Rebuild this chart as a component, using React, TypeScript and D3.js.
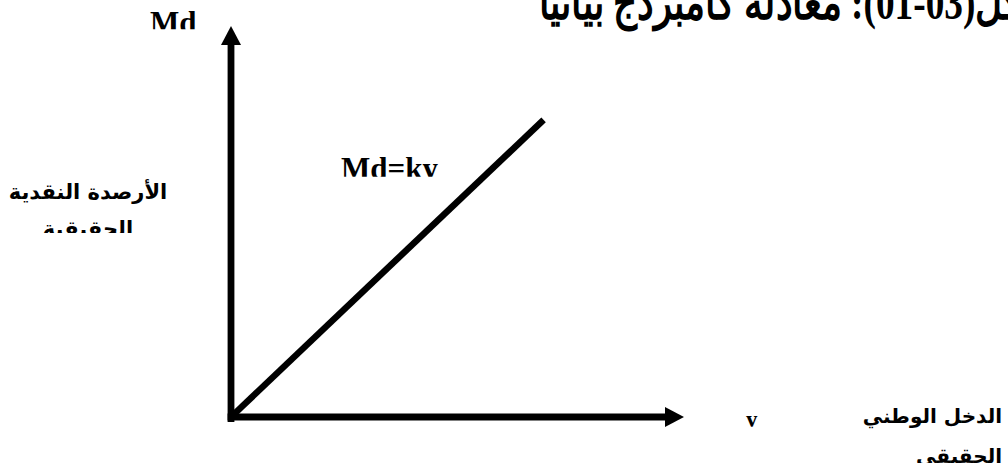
import React from "react";
import * as d3 from "d3";

// ---- data ----
const xDomain = [0, 100];
const yDomain = [0, 100];
const demandLine = [
  { v: 0, md: 0 },
  { v: 69, md: 76 },
];
const titleText = "شكل(03-01): معادلة كامبردج بيانيا";
const yAxisSymbol = "Md";
const xAxisSymbol = "y";
const curveLabel = "Md=ky";
const yAxisTitle = ["الأرصدة النقدية", "الحقيقية"];
const xAxisTitle = ["الدخل الوطني", "الحقيقي"];

const W = 1008;
const H = 463;

export default function App() {
  const x = d3.scaleLinear().domain(xDomain).range([231, 684]);
  const y = d3.scaleLinear().domain(yDomain).range([417, 26]);
  const lineGen = d3
    .line<{ v: number; md: number }>()
    .x((d) => x(d.v))
    .y((d) => y(d.md));

  const x0 = x(xDomain[0]);
  const x1 = x(xDomain[1]);
  const y0 = y(yDomain[0]);
  const y1 = y(yDomain[1]);
  const head = 19;
  const half = 10;
  const sw = 6.8;

  const serif = "'Liberation Serif', 'Times New Roman', serif";
  const arab = "'DejaVu Sans', sans-serif";

  return (
    <svg
      width={W}
      height={H}
      style={{ position: "absolute", left: 0, top: 0, background: "#fff" }}
    >
      <defs>
        <clipPath id="clipMd">
          <rect x={0} y={0} width={300} height={29.3} />
        </clipPath>
        <clipPath id="clipCurve">
          <rect x={300} y={140} width={200} height={36.7} />
        </clipPath>
        <clipPath id="clipY">
          <rect x={700} y={400} width={100} height={26.7} />
        </clipPath>
        <clipPath id="clipLeft">
          <rect x={0} y={160} width={220} height={73} />
        </clipPath>
      </defs>
      <rect x={0} y={0} width={W} height={H} fill="#fff" />

      {/* title (clipped by top edge) */}
      <text
        x={797}
        y={19}
        direction="rtl"
        textAnchor="middle"
        fontFamily={serif}
        fontWeight="bold"
        fontSize={48}
        textLength={517}
        lengthAdjust="spacingAndGlyphs"
        fill="#000"
      >
        {titleText}
      </text>

      {/* y axis */}
      <line
        x1={x0}
        y1={y0 + 5}
        x2={x0}
        y2={y1 + head - 1}
        stroke="#000"
        strokeWidth={sw}
      />
      <path
        d={`M${x0},${y1} L${x0 - half},${y1 + head} L${x0 + half},${y1 + head} Z`}
        fill="#000"
      />

      {/* x axis */}
      <line
        x1={x0 - 3.4}
        y1={y0}
        x2={x1 - head + 1}
        y2={y0}
        stroke="#000"
        strokeWidth={sw}
      />
      <path
        d={`M${x1},${y0} L${x1 - head},${y0 - half} L${x1 - head},${y0 + half} Z`}
        fill="#000"
      />

      {/* Md = ky line */}
      <path
        d={lineGen(demandLine) || ""}
        fill="none"
        stroke="#000"
        strokeWidth={6.5}
      />

      {/* axis symbols */}
      <g clipPath="url(#clipMd)">
        <text x={150} y={32.6} fontFamily={serif} fontWeight="bold" fontSize={31} fill="#000">
          {yAxisSymbol}
        </text>
      </g>
      <g clipPath="url(#clipCurve)">
        <text x={341} y={178.6} fontFamily={serif} fontWeight="bold" fontSize={31} fill="#000">
          {curveLabel}
        </text>
      </g>
      <g clipPath="url(#clipY)">
        <text x={746} y={427.3} fontFamily={serif} fontWeight="bold" fontSize={23} fill="#000">
          {xAxisSymbol}
        </text>
      </g>

      {/* y axis title */}
      <g clipPath="url(#clipLeft)">
        <text x={88} y={199} textAnchor="middle" fontFamily={arab} fontWeight="bold" fontSize={21} fill="#000">
          {yAxisTitle[0]}
        </text>
        <text x={88} y={236} textAnchor="middle" fontFamily={arab} fontWeight="bold" fontSize={21} fill="#000">
          {yAxisTitle[1]}
        </text>
      </g>

      {/* x axis title */}
      <text x={1002} y={423} textAnchor="end" fontFamily={arab} fontWeight="bold" fontSize={20} fill="#000">
        {xAxisTitle[0]}
      </text>
      <text x={1002} y={463} textAnchor="end" fontFamily={arab} fontWeight="bold" fontSize={20} fill="#000">
        {xAxisTitle[1]}
      </text>
    </svg>
  );
}
